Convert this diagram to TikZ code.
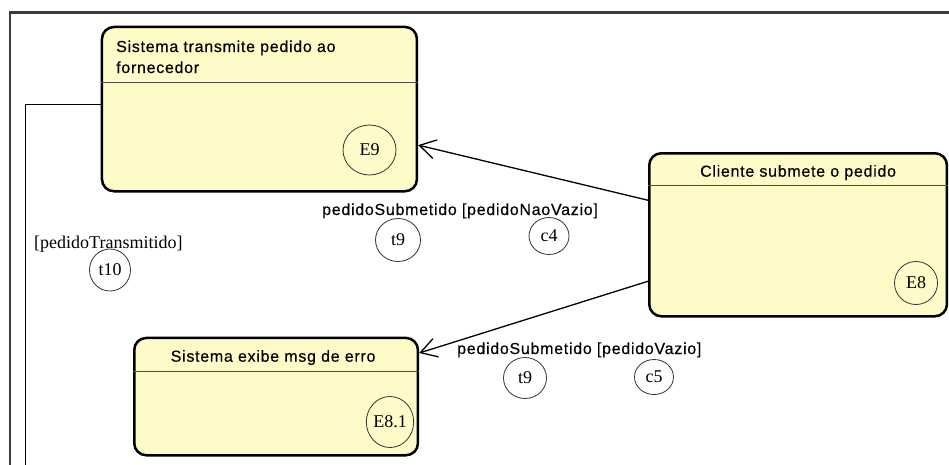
\documentclass[tikz,border=0pt]{standalone}
\usepackage{fontspec}
\setmainfont{Liberation Serif}
\newfontfamily\uisans{Liberation Sans}[LetterSpace=4.5,FakeBold=0.35]
\usetikzlibrary{arrows.meta,shapes.geometric}

\definecolor{statefill}{RGB}{255,251,201}
\definecolor{framegray}{RGB}{60,60,60}

\tikzset{
  statebox/.style={draw=black, line width=2.5pt, fill=statefill,
    rounded corners=12pt, rectangle, inner sep=0pt, anchor=north west},
  headline/.style={draw=black!70, line width=1.4pt},
  boxtitle/.style={font=\uisans\fontsize{16}{18}\selectfont, inner sep=0pt},
  guardlabel/.style={font=\uisans\fontsize{16}{18}\selectfont, inner sep=0pt, anchor=base west},
  serifmark/.style={font=\fontsize{18}{20}\selectfont, inner sep=0pt},
  tag/.style={ellipse, draw=black!80, line width=0.8pt, inner sep=0pt,
    font=\fontsize{18}{20}\selectfont},
  transition/.style={draw=black, line width=1.3pt,
    -{Straight Barb[length=16pt,width=19pt,line width=1.3pt]}},
  plainlink/.style={draw=black, line width=1pt},
}

\begin{document}
\begin{tikzpicture}[x=1pt,y=-1pt]
\useasboundingbox (0,0) rectangle (949,464);
\clip (0,0) rectangle (949,464);

% enclosing diagram frame (runs past the page edges)
\draw[framegray, line width=2.2pt] (10,12.5) rectangle (1000,520);

% state: Sistema transmite pedido ao fornecedor
\node[statebox, minimum width=315pt, minimum height=164.3pt] (e9) at (100.7,25.7) {};
\draw[headline] ([yshift=-56.6pt]e9.north west) -- ([yshift=-56.6pt]e9.north east);
\node[boxtitle, anchor=base west] (e9ta) at ([xshift=15.3pt,yshift=-26.3pt]e9.north west) {Sistema transmite pedido ao};
\node[boxtitle, anchor=base west] (e9tb) at ([yshift=-21pt]e9ta.base west) {fornecedor};
\node[tag, minimum width=53pt, minimum height=50pt] (e9tag) at (369.5,150) {E9};

% state: Cliente submete o pedido
\node[statebox, minimum width=297.7pt, minimum height=163pt] (e8) at (648,152) {};
\draw[headline] ([yshift=-33.7pt]e8.north west) -- ([yshift=-33.7pt]e8.north east);
\node[boxtitle, anchor=base] (e8t) at ([yshift=-24.7pt]e8.north) {Cliente submete o pedido};
\node[tag, minimum width=43pt, minimum height=43pt] (e8tag) at (916,283) {E8};

% state: Sistema exibe msg de erro
\node[statebox, minimum width=283.7pt, minimum height=117.3pt] (e81) at (133,336.7) {};
\draw[headline] ([yshift=-35pt]e81.north west) -- ([yshift=-35pt]e81.north east);
\node[boxtitle, anchor=base] (e81t) at ([xshift=-3pt,yshift=-25pt]e81.north) {Sistema exibe msg de erro};
\node[tag, minimum width=41pt, minimum height=51pt] (e81tag) at (390,422) {E8.1};

% transitions out of E8
\draw[transition] ([yshift=34.5pt]e8.west) -- ([yshift=-36pt]e9.east);
\draw[transition] ([yshift=-46.5pt]e8.west) -- ([yshift=43.6pt]e81.east);

% transition t10 leaving E9 towards the left and down off the page
\coordinate (t10end) at (25,480);
\draw[plainlink] ([yshift=5pt]e9.west) -| (t10end);

% transition labels
\node[guardlabel] (lab9a) at (322,215) {pedidoSubmetido [pedidoNaoVazio]};
\node[tag, minimum width=45pt, minimum height=43pt] (t9a) at (398,240) {t9};
\node[tag, minimum width=40pt, minimum height=37pt] (c4) at (549,236) {c4};

\node[serifmark, anchor=base west] (lab10) at (34,248) {[pedidoTransmitido]};
\node[tag, minimum width=41pt, minimum height=42pt] (t10) at (110,270) {t10};

\node[guardlabel] (lab9b) at (457,354) {pedidoSubmetido [pedidoVazio]};
\node[tag, minimum width=43pt, minimum height=41pt] (t9b) at (525,378) {t9};
\node[tag, minimum width=39pt, minimum height=35pt] (c5) at (654,377) {c5};
\end{tikzpicture}
\end{document}
